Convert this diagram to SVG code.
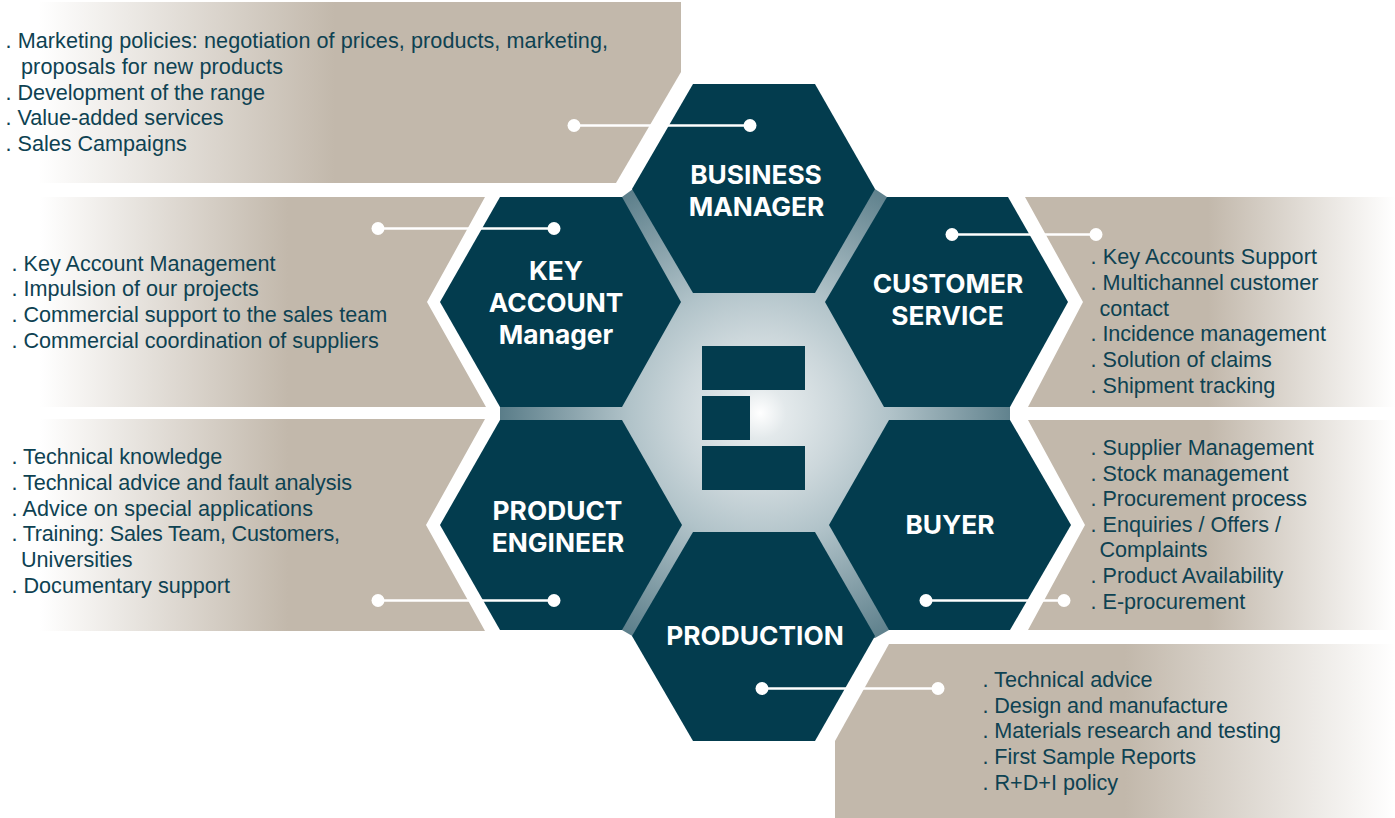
<svg xmlns="http://www.w3.org/2000/svg" width="1395" height="818" viewBox="0 0 1395 818">
<defs>
<radialGradient id="core" gradientUnits="userSpaceOnUse" cx="760" cy="413" r="260">
<stop offset="0" stop-color="#ffffff"/><stop offset="0.1" stop-color="#e3e9eb"/><stop offset="0.3" stop-color="#ccd7db"/><stop offset="0.5" stop-color="#b1c3c9"/><stop offset="0.75" stop-color="#86a0a9"/><stop offset="1" stop-color="#5a7d89"/>
</radialGradient>
<linearGradient id="p1" gradientUnits="userSpaceOnUse" x1="38" x2="335" y1="0" y2="0"><stop offset="0" stop-color="#c2b8ab" stop-opacity="0"/><stop offset="1" stop-color="#c2b8ab"/></linearGradient>
<linearGradient id="p2" gradientUnits="userSpaceOnUse" x1="40" x2="288" y1="0" y2="0"><stop offset="0" stop-color="#c2b8ab" stop-opacity="0"/><stop offset="1" stop-color="#c2b8ab"/></linearGradient>
<linearGradient id="p4" gradientUnits="userSpaceOnUse" x1="1208" x2="1395" y1="0" y2="0"><stop offset="0" stop-color="#c2b8ab"/><stop offset="1" stop-color="#c2b8ab" stop-opacity="0"/></linearGradient>
<linearGradient id="p6" gradientUnits="userSpaceOnUse" x1="1125" x2="1395" y1="0" y2="0"><stop offset="0" stop-color="#c2b8ab"/><stop offset="1" stop-color="#c2b8ab" stop-opacity="0"/></linearGradient>
</defs>
<style>
.hex{fill:#033c4e}
.t{font-family:"Inter","Liberation Sans",sans-serif;font-weight:700;font-size:26.3px;fill:#fff;text-anchor:middle}
.b{font-family:"Liberation Sans",Arial,sans-serif;font-size:21.6px;fill:#0e4252}
.c{stroke:#fff;stroke-width:2.5;fill:none}
.d{fill:#fff}
</style>
<g id="panels">
<polygon fill="url(#p1)" points="0,2 681,2 681,72 616,183 0,183"/>
<polygon fill="url(#p2)" points="0,197 485,197 427,302 486,407 0,407"/>
<polygon fill="url(#p2)" points="0,419 485,419 426,525 485,631 0,631"/>
<polygon fill="url(#p4)" points="1025,197 1395,197 1395,407 1028,407 1083,302"/>
<polygon fill="url(#p4)" points="1028,420 1395,420 1395,630 1028,630 1085,525"/>
<polygon fill="url(#p6)" points="889,644 1395,644 1395,818 835,818 835,741"/>
</g>
<g id="core-hub">
<polygon fill="url(#core)" points="500,407 622,197 633,189 875,189 887,197 1010,407 1010,420 889,630 875,638 634,637 622,630 500,420"/>
<rect class="hex" x="702" y="346" width="103" height="44"/>
<rect class="hex" x="702" y="396" width="48" height="44"/>
<rect class="hex" x="702" y="446" width="103" height="44"/>
</g>
<g id="business-manager">
<polygon class="hex" points="693,84 815,84 875,189 815,293 693,293 632,189"/>
<text class="t" x="756" y="184">BUSINESS</text><text class="t" x="756.500" y="216">MANAGER</text>
</g>
<g id="key-account-manager">
<polygon class="hex" points="500,197 622,197 681,302 622,407 500,407 440,302"/>
<text class="t" x="556" y="280">KEY</text><text class="t" x="556" y="312">ACCOUNT</text><text class="t" x="556" y="344">Manager</text>
</g>
<g id="customer-service">
<polygon class="hex" points="887,197 1008,197 1068,302 1010,407 884,407 825,302"/>
<text class="t" x="948" y="293">CUSTOMER</text><text class="t" x="947.500" y="325">SERVICE</text>
</g>
<g id="product-engineer">
<polygon class="hex" points="500,420 622,420 682,525 622,630 500,630 440,525"/>
<text class="t" x="557.500" y="520">PRODUCT</text><text class="t" x="558" y="552">ENGINEER</text>
</g>
<g id="buyer">
<polygon class="hex" points="889,420 1010,420 1071,525 1010,630 889,630 829,525"/>
<text class="t" x="950" y="534">BUYER</text>
</g>
<g id="production">
<polygon class="hex" points="693,532 815,532 875,636 815,741 693,741 632,636"/>
<text class="t" x="755" y="645">PRODUCTION</text>
</g>
<g id="connectors">
<path class="c" d="M574 125.500H750"/><circle class="d" cx="574" cy="125.500" r="6.500"/><circle class="d" cx="750" cy="125.500" r="6.500"/>
<path class="c" d="M378 228.500H554"/><circle class="d" cx="378" cy="228.500" r="6.500"/><circle class="d" cx="554" cy="228.500" r="6.500"/>
<path class="c" d="M952 234.500H1096"/><circle class="d" cx="952" cy="234.500" r="6.500"/><circle class="d" cx="1096" cy="234.500" r="6.500"/>
<path class="c" d="M378 600.500H554"/><circle class="d" cx="378" cy="600.500" r="6.500"/><circle class="d" cx="554" cy="600.500" r="6.500"/>
<path class="c" d="M926 600.500H1064"/><circle class="d" cx="926" cy="600.500" r="6.500"/><circle class="d" cx="1064" cy="600.500" r="6.500"/>
<path class="c" d="M762 688.500H938"/><circle class="d" cx="762" cy="688.500" r="6.500"/><circle class="d" cx="938" cy="688.500" r="6.500"/>
</g>
<g id="texts">
<text class="b" x="5.500" y="48" textLength="602.500">. Marketing policies: negotiation of prices, products, marketing,</text>
<text class="b" x="21" y="74" textLength="262">proposals for new products</text>
<text class="b" x="5.500" y="100" textLength="259.500">. Development of the range</text>
<text class="b" x="5.500" y="125">. Value-added services</text>
<text class="b" x="5.500" y="151">. Sales Campaigns</text>
<text class="b" x="11.500" y="271">. Key Account Management</text>
<text class="b" x="11.500" y="296">. Impulsion of our projects</text>
<text class="b" x="11.500" y="322">. Commercial support to the sales team</text>
<text class="b" x="11.500" y="348">. Commercial coordination of suppliers</text>
<text class="b" x="11.500" y="464">. Technical knowledge</text>
<text class="b" x="11.500" y="490" textLength="340.500">. Technical advice and fault analysis</text>
<text class="b" x="11.500" y="516" textLength="301.500">. Advice on special applications</text>
<text class="b" x="11.500" y="541" textLength="328.500">. Training: Sales Team, Customers,</text>
<text class="b" x="21" y="567">Universities</text>
<text class="b" x="11.500" y="593">. Documentary support</text>
<text class="b" x="1090.500" y="264" textLength="226.500">. Key Accounts Support</text>
<text class="b" x="1090.500" y="290">. Multichannel customer</text>
<text class="b" x="1099.500" y="316">contact</text>
<text class="b" x="1090.500" y="341" textLength="235.500">. Incidence management</text>
<text class="b" x="1090.500" y="367">. Solution of claims</text>
<text class="b" x="1090.500" y="393">. Shipment tracking</text>
<text class="b" x="1090.500" y="455">. Supplier Management</text>
<text class="b" x="1090.500" y="481">. Stock management</text>
<text class="b" x="1090.500" y="506" textLength="216.500">. Procurement process</text>
<text class="b" x="1090.500" y="532">. Enquiries / Offers /</text>
<text class="b" x="1099.500" y="557">Complaints</text>
<text class="b" x="1090.500" y="583">. Product Availability</text>
<text class="b" x="1090.500" y="609">. E-procurement</text>
<text class="b" x="982.500" y="687">. Technical advice</text>
<text class="b" x="982.500" y="713" textLength="245.500">. Design and manufacture</text>
<text class="b" x="982.500" y="738" textLength="298.500">. Materials research and testing</text>
<text class="b" x="982.500" y="764" textLength="213.500">. First Sample Reports</text>
<text class="b" x="982.500" y="790">. R+D+I policy</text>
</g>
</svg>
